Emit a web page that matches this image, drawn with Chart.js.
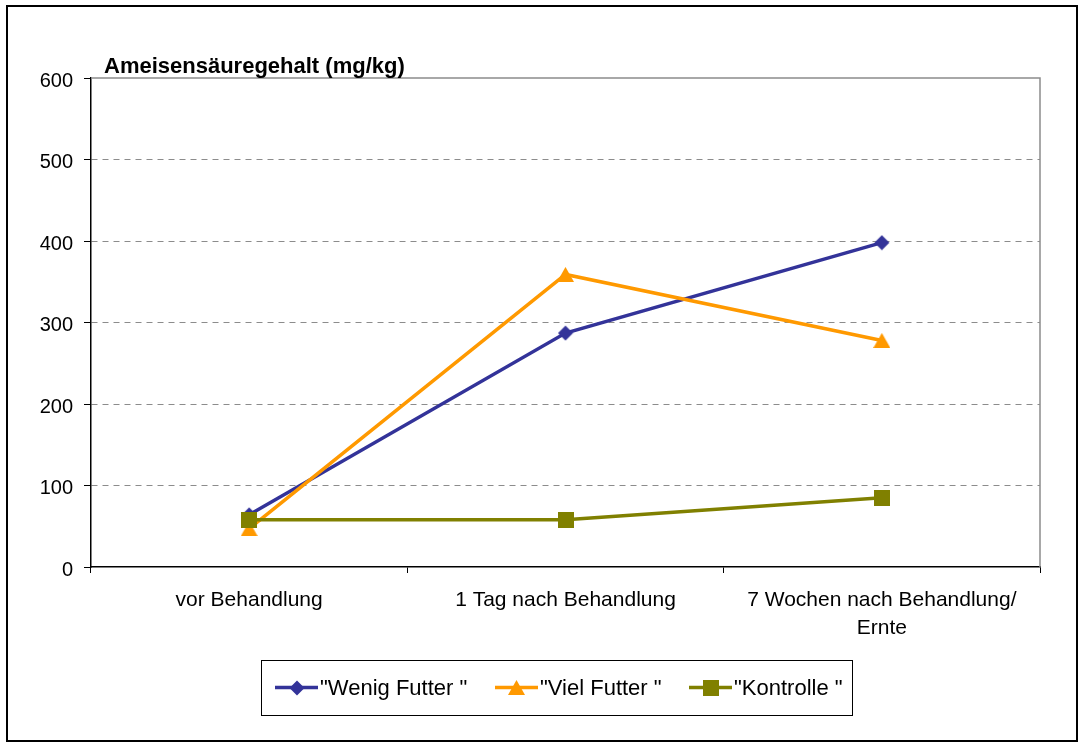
<!DOCTYPE html>
<html>
<head>
<meta charset="utf-8">
<script src="https://cdn.jsdelivr.net/npm/chart.js@4.4.1/dist/chart.umd.min.js"></script>
<style>
  html, body { margin: 0; padding: 0; background: #fff; }
  #wrap { position: relative; width: 1082px; height: 742px; }
  canvas { display: block; }
</style>
</head>
<body>
<div id="wrap"><canvas id="c" width="1082" height="742"></canvas></div>
<script>
const categories = ["vor Behandlung", "1 Tag nach Behandlung", ["7 Wochen nach Behandlung/", "Ernte"]];
const wenigFutter = [64, 287, 398];
const vielFutter = [47, 359, 278];
const kontrolle = [58, 58, 85];
const seriesNames = ['"Wenig Futter "', '"Viel Futter "', '"Kontrolle "'];
const yTicks = [0, 100, 200, 300, 400, 500, 600];
const yTitle = "Ameisensäuregehalt (mg/kg)";

const FONT = "'Liberation Sans', Arial, sans-serif";
const colors = ['#333399', '#FF9900', '#808000'];

function makeMarker(kind, color) {
  const c = document.createElement('canvas');
  if (kind === 'triangle') { c.width = 17; c.height = 15; }
  else { c.width = 16; c.height = 16; }
  const ctx = c.getContext('2d');
  ctx.fillStyle = color;
  if (kind === 'diamond') {
    ctx.beginPath();
    ctx.moveTo(8, 0.5); ctx.lineTo(15.5, 8); ctx.lineTo(8, 15.5); ctx.lineTo(0.5, 8);
    ctx.closePath(); ctx.fill();
  } else if (kind === 'triangle') {
    ctx.beginPath();
    ctx.moveTo(8.5, 0); ctx.lineTo(17, 15); ctx.lineTo(0, 15);
    ctx.closePath(); ctx.fill();
  } else {
    ctx.fillRect(0, 0, 16, 16);
  }
  return c;
}
const markers = [makeMarker('diamond', colors[0]), makeMarker('triangle', colors[1]), makeMarker('square', colors[2])];

const frame = {
  id: 'frame',
  beforeDraw(chart) {
    const ctx = chart.ctx;
    ctx.save();
    ctx.fillStyle = '#fff';
    ctx.fillRect(0, 0, chart.width, chart.height);
    ctx.restore();
  },
  afterDraw(chart) {
    const ctx = chart.ctx;
    const a = chart.chartArea;
    ctx.save();
    ctx.strokeStyle = '#8c8c8c';
    ctx.lineWidth = 1.5;
    ctx.beginPath();
    ctx.moveTo(a.left, a.top);
    ctx.lineTo(a.right, a.top);
    ctx.lineTo(a.right, a.bottom);
    ctx.stroke();
    ctx.strokeStyle = '#000';
    ctx.lineWidth = 2;
    ctx.strokeRect(7, 6, 1070, 735);
    ctx.fillStyle = '#000';
    ctx.font = 'bold 22px ' + FONT;
    ctx.textBaseline = 'alphabetic';
    ctx.textAlign = 'left';
    ctx.fillText(yTitle, 104, 72.5);
    const lx = 261, ly = 660, lw = 591, lh = 55;
    ctx.strokeStyle = '#000';
    ctx.lineWidth = 1;
    ctx.strokeRect(lx + 0.5, ly + 0.5, lw, lh);
    const cy = ly + lh / 2;
    const itemX = [275, 495, 689];
    chart.data.datasets.forEach((ds, i) => {
      const x0 = itemX[i];
      ctx.strokeStyle = ds.borderColor;
      ctx.lineWidth = 3.5;
      ctx.beginPath();
      ctx.moveTo(x0, cy);
      ctx.lineTo(x0 + 43, cy);
      ctx.stroke();
      const m = markers[i];
      ctx.drawImage(m, Math.round(x0 + 21.5 - m.width / 2), Math.round(cy - m.height / 2));
      ctx.fillStyle = '#000';
      ctx.font = '22px ' + FONT;
      ctx.textBaseline = 'middle';
      ctx.fillText(ds.label, x0 + 45, cy + 1);
    });
    ctx.restore();
  }
};

const datasets = [
  { label: seriesNames[0], data: wenigFutter },
  { label: seriesNames[1], data: vielFutter },
  { label: seriesNames[2], data: kontrolle }
];
datasets.forEach((d, i) => {
  d.borderColor = colors[i];
  d.backgroundColor = colors[i];
  d.pointStyle = markers[i];
  d.pointRadius = 8;
  d.pointHoverRadius = 8;
  d.borderWidth = 3.5;
  d.tension = 0;
  d.fill = false;
  d.order = datasets.length - i;
});

new Chart(document.getElementById('c'), {
  type: 'line',
  data: { labels: categories, datasets },
  options: {
    responsive: false,
    animation: false,
    events: [],
    layout: { padding: { left: 11, top: 78, right: 42, bottom: 0 } },
    plugins: {
      legend: { display: false },
      tooltip: { enabled: false },
      title: { display: false }
    },
    scales: {
      x: {
        type: 'category',
        offset: true,
        grid: {
          offset: true,
          drawOnChartArea: false,
          drawTicks: true,
          tickLength: 6,
          tickColor: '#000',
          tickWidth: 1
        },
        border: { display: true, color: '#000', width: 1.5 },
        ticks: {
          color: '#000',
          font: { family: FONT, size: 21, lineHeight: 1.3 },
          padding: 14,
          maxRotation: 0,
          autoSkip: false
        },
        afterFit(scale) { scale.height = 175; }
      },
      y: {
        min: 0,
        max: 600,
        afterBuildTicks(scale) { scale.ticks = yTicks.map(v => ({ value: v })); },
        grid: {
          color: c => (c.tick && (c.tick.value === 0 || c.tick.value === 600)) ? 'rgba(0,0,0,0)' : '#8c8c8c',
          lineWidth: 1,
          drawTicks: true,
          tickLength: 7,
          tickColor: '#000',
          tickWidth: 1
        },
        border: { display: true, color: '#000', width: 1.5, dash: [6, 5] },
        ticks: {
          color: '#000',
          font: { family: FONT, size: 20 },
          padding: 11,
          labelOffset: 3
        },
        afterFit(scale) { scale.width = 80; }
      }
    }
  },
  plugins: [frame]
});
</script>
</body>
</html>
